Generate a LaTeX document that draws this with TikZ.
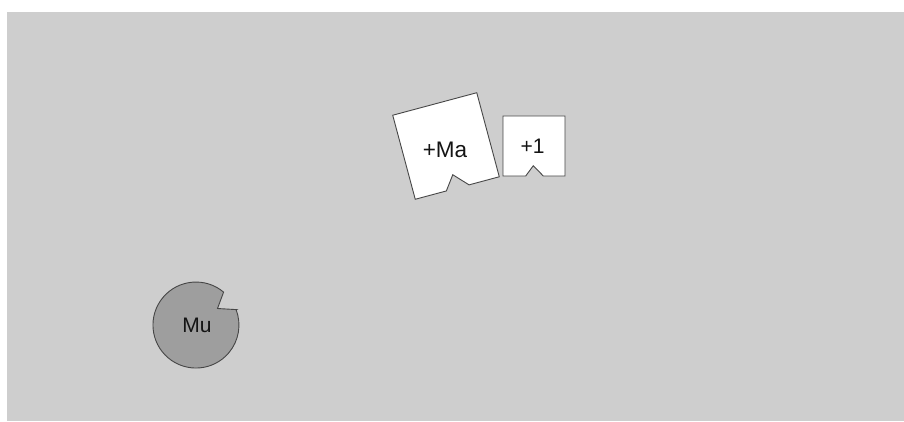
\documentclass[tikz,border=0pt]{standalone}
\usepackage{fontspec}
\setmainfont{Liberation Sans}
\definecolor{bggray}{RGB}{206,206,206}
\definecolor{mugray}{RGB}{158,158,158}
\definecolor{edgegray}{RGB}{70,70,70}
\definecolor{txt}{RGB}{20,20,20}
\tikzset{
  piece/.style={draw=edgegray, line width=0.9pt, line join=miter},
  lbl/.style={inner sep=0pt, text=txt}
}
\begin{document}
\begin{tikzpicture}[x=1pt,y=1pt]
\useasboundingbox (0,0) rectangle (904,421);
\fill[bggray] (7,0) rectangle (904,409);
% Mu
\draw[piece, fill=mugray] (236.2,111.4) -- (217.5,112.5) -- (223.6,128.9)
  arc[start angle=50, end angle=381, radius=43] -- cycle;
\node[lbl, font=\fontsize{21}{21}\selectfont] (mu) at (197,96) {Mu};
% +Ma
\begin{scope}[shift={(446,275)}, rotate=15]
\draw[piece, fill=white] (-43.5,43.5) -- (43.5,43.5) -- (43.5,-43.5) -- (12.2,-43.5)
  -- (-0.9,-29.5) -- (-11.3,-43.5) -- (-43.5,-43.5) -- cycle;
\end{scope}
\node[lbl, font=\fontsize{22.5}{22.5}\selectfont] (ma) at (445,271.5) {+Ma};
% +1
\draw[piece, fill=white] (503,305) -- (565,305) -- (565,245) -- (543.3,245)
  -- (533.3,255.3) -- (525.7,245) -- (503,245) -- cycle;
\node[lbl, font=\fontsize{21}{21}\selectfont] (one) at (532.5,274.5) {+1};
\end{tikzpicture}
\end{document}
